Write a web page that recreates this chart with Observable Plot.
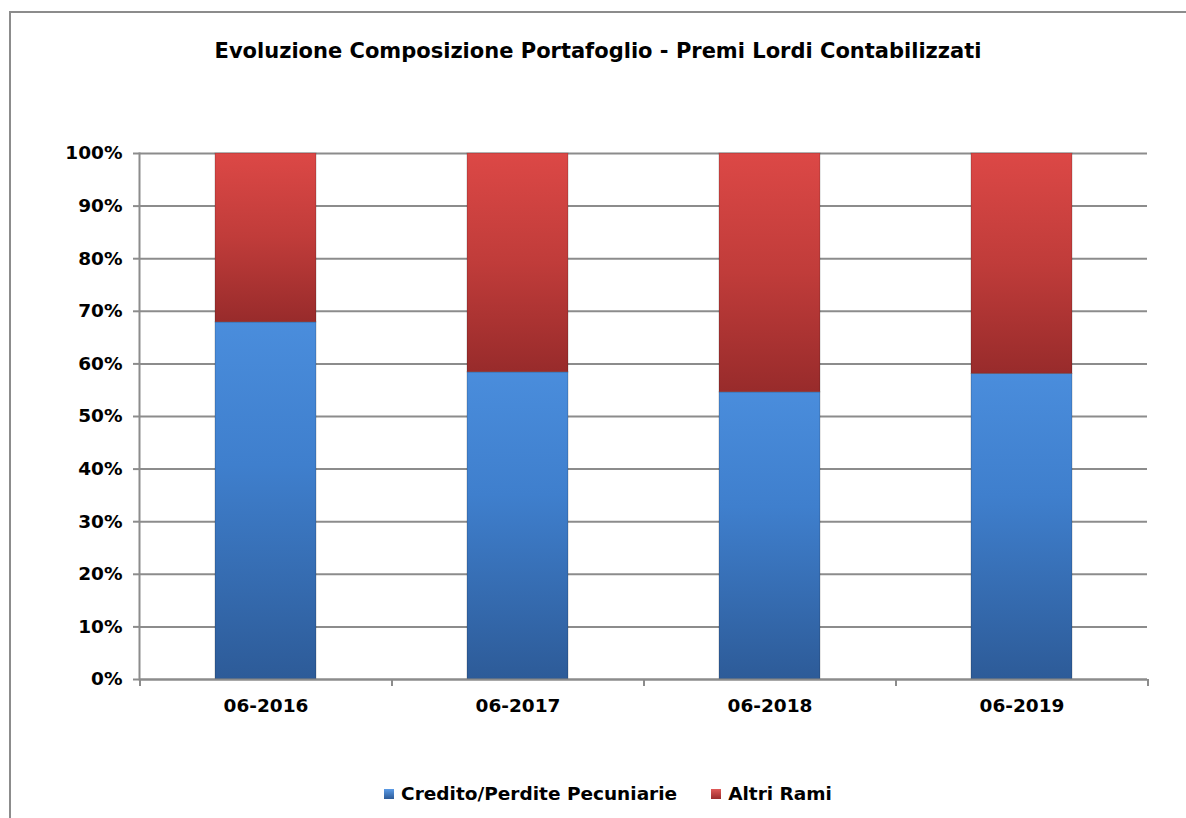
<!DOCTYPE html>
<html>
<head>
<meta charset="utf-8">
<script src="https://cdn.jsdelivr.net/npm/d3@7"></script>
<script src="https://cdn.jsdelivr.net/npm/@observablehq/plot@0.6"></script>
<style>
  html, body { margin:0; padding:0; background:#fff; }
  body { width:1186px; height:818px; overflow:hidden; position:relative; font-family:"DejaVu Sans", Verdana, sans-serif; }
  #frame { position:absolute; left:9px; top:11px; width:1300px; height:1000px; border-left:2px solid #8c8c8c; border-top:2px solid #8c8c8c; }
  #title { position:absolute; left:0; top:39px; width:1196px; text-align:center; font-family:"DejaVu Sans",sans-serif; font-weight:bold; font-size:21px; line-height:24px; color:#000; }
  #chart { position:absolute; left:0; top:120px; }
  #legend { position:absolute; left:0; top:783px; width:1216px; display:flex; justify-content:center; align-items:center; font-weight:bold; font-size:18.5px; color:#000; }
  .item { display:flex; align-items:center; margin:0 17px; }
  .sw { width:10px; height:10px; margin-right:7px; }
</style>
</head>
<body>
<div id="frame"></div>
<div id="title">Evoluzione Composizione Portafoglio - Premi Lordi Contabilizzati</div>
<div id="chart"></div>
<div id="legend"></div>
<script>
const categories = ["06-2016", "06-2017", "06-2018", "06-2019"];
const series = ["Credito/Perdite Pecuniarie", "Altri Rami"];
const credito = [67.9, 58.4, 54.6, 58.1];
const altriRami = [32.1, 41.6, 45.4, 41.9];
const yTicks = [0, 10, 20, 30, 40, 50, 60, 70, 80, 90, 100];
const seriesFill = ["url(#gBlue)", "url(#gRed)"];

const rows = categories.flatMap((c, i) => [
  {cat: c, serie: series[0], value: credito[i]},
  {cat: c, serie: series[1], value: altriRami[i]}
]);

const W = 1186, ML = 139, MR = 39;
const step = (W - ML - MR) / categories.length;
const grey = "#8c8c8c";

const chart = Plot.plot({
  width: W, height: 600,
  marginLeft: ML, marginRight: MR, marginTop: 33, marginBottom: 41,
  style: {fontFamily: "'DejaVu Sans', Verdana, sans-serif", fontWeight: "bold", fontSize: "18.5px", color: "#000", background: "transparent", overflow: "visible"},
  x: {domain: categories, paddingInner: 0.6, paddingOuter: 0.3, label: null},
  y: {domain: [0, 100], label: null},
  color: {domain: series, range: seriesFill},
  marks: [
    Plot.gridY(yTicks, {stroke: grey, strokeOpacity: 1, strokeWidth: 2}),
    Plot.barY(rows, {x: "cat", y: "value", fill: "serie", order: series, stroke: "#00000033", strokeWidth: 1}),
    Plot.ruleY([0], {stroke: grey, strokeWidth: 2}),
    Plot.frame({anchor: "left", stroke: grey, strokeWidth: 2}),
    Plot.ruleX(categories, {x: d => d, dx: -step / 2, y1: 0, y2: 0, insetBottom: -7, stroke: grey, strokeWidth: 2}),
    Plot.ruleX(categories.slice(-1), {x: d => d, dx: step / 2, y1: 0, y2: 0, insetBottom: -7, stroke: grey, strokeWidth: 2}),
    Plot.axisY(yTicks, {tickSize: 6, tickPadding: 11, stroke: grey, strokeWidth: 2, fill: "#000", tickFormat: d => d + "%", fontWeight: "bold", label: null}),
    Plot.axisX({tickSize: 0, tickPadding: 19, fill: "#000", fontWeight: "bold", label: null})
  ]
});

const svg = d3.select(chart);
const defs = svg.insert("defs", ":first-child");
function grad(id, stops) {
  const g = defs.append("linearGradient").attr("id", id).attr("x1", 0).attr("y1", 0).attr("x2", 0).attr("y2", 1);
  stops.forEach(([o, c]) => g.append("stop").attr("offset", o).attr("stop-color", c));
}
grad("gBlue", [[0, "#4a8ddc"], [0.4, "#3f7fcd"], [1, "#2d5b98"]]);
grad("gRed", [[0, "#dc4846"], [0.5, "#c03c3a"], [1, "#982b2b"]]);

document.getElementById("chart").appendChild(chart);

const legend = d3.select("#legend");
series.forEach((s, i) => {
  const it = legend.append("div").attr("class", "item");
  it.append("div").attr("class", "sw").style("background", i === 0 ? "linear-gradient(#5b9be6,#2d5b98)" : "linear-gradient(#e05a58,#9a2c2c)");
  it.append("span").text(s);
});
</script>
</body>
</html>
